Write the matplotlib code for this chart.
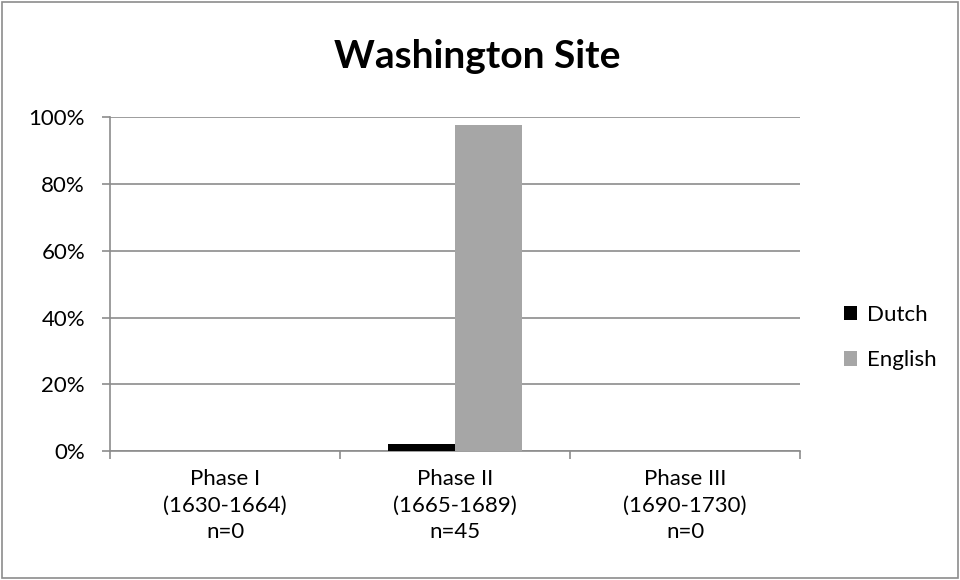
import matplotlib
matplotlib.use("Agg")
import matplotlib.pyplot as plt
import numpy as np
from matplotlib.patches import Rectangle

plt.rcParams['font.family'] = ['Lato', 'DejaVu Sans']

phases = ['Phase I\n(1630-1664)\nn=0', 'Phase II\n(1665-1689)\nn=45', 'Phase III\n(1690-1730)\nn=0']
dutch = [0.0, 2.2, 0.0]
english = [0.0, 97.8, 0.0]
series_names = ['Dutch', 'English']
series_colors = ['#000000', '#a6a6a6']

fig = plt.figure(figsize=(9.6, 5.8), dpi=100)
ax = fig.add_axes([0.1146, 0.222, 0.7188, 0.576])

x = np.arange(len(phases))
w = 0.29
ax.bar(x - w / 2, dutch, w, color=series_colors[0], label=series_names[0], zorder=3)
ax.bar(x + w / 2, english, w, color=series_colors[1], label=series_names[1], zorder=3)

ax.set_xlim(-0.5, 2.5)
ax.set_ylim(0, 100)
ax.set_yticks(range(0, 101, 20))
ax.set_yticklabels([f'{v}%' for v in range(0, 101, 20)], fontsize=16)
ax.yaxis.grid(True, color='#8c8c8c', linewidth=1.2, zorder=0)

# category labels centered, ticks at boundaries
ax.set_xticks(x)
ax.set_xticklabels(phases, fontsize=16, linespacing=1.4)
ax.tick_params(axis='x', length=0, pad=13)
ax.set_xticks(np.arange(-0.5, 2.6, 1), minor=True)
ax.tick_params(axis='x', which='minor', length=6, color='#8c8c8c', width=1.2)
ax.tick_params(axis='y', length=6, color='#8c8c8c', width=1.2, pad=12)

for side in ['top', 'right']:
    ax.spines[side].set_visible(False)
for side in ['left', 'bottom']:
    ax.spines[side].set_color('#8c8c8c')
    ax.spines[side].set_linewidth(1.2)

fig.text(0.497, 0.902, 'Washington Site', ha='center', va='center', fontsize=28, fontweight='bold')

leg = fig.legend(loc='center left', bbox_to_anchor=(0.858, 0.418), frameon=False,
                 fontsize=16, handlelength=0.62, handleheight=0.62, handletextpad=0.45,
                 labelspacing=1.15)

fig.patches.append(Rectangle((0.002, 0.003), 0.996, 0.994, transform=fig.transFigure,
                             fill=False, edgecolor='#8c8c8c', linewidth=1.2))

fig.savefig('out.png', dpi=100)
